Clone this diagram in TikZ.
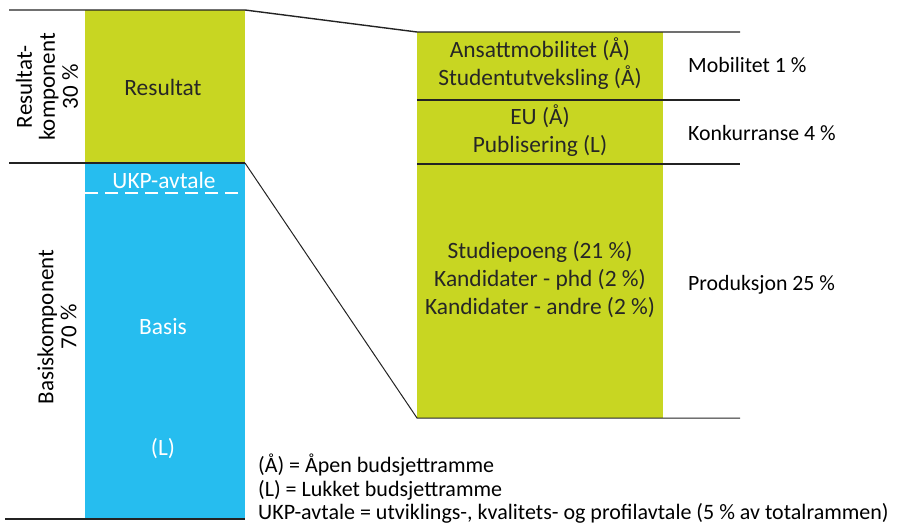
\documentclass[tikz,border=0pt]{standalone}
\usepackage{fontspec}
\setmainfont{Carlito}
\definecolor{lime}{RGB}{200,214,34}
\definecolor{sky}{RGB}{38,189,239}
\definecolor{rule}{RGB}{35,35,35}
\begin{document}
\begin{tikzpicture}[x=1pt,y=-1pt,
  box/.style={inner sep=0pt, outer sep=0pt, anchor=north west},
  sep/.style={draw=rule, line width=1.4pt},
  txt/.style={font=\fontsize{23.4}{28}\selectfont, text=black!85, align=center, inner sep=0pt},
  wtxt/.style={txt, text=white},
  side/.style={font=\fontsize{23}{23}\selectfont, align=center, inner sep=0pt, rotate=90},
  lab/.style={font=\fontsize{21.8}{26}\selectfont, anchor=west, inner sep=0pt},
  leg/.style={font=\fontsize{22}{24}\selectfont, anchor=west, inner sep=0pt}]
\useasboundingbox (0,0) rectangle (901,524);
% boxes
\node[box, fill=lime, minimum width=160pt, minimum height=153pt] (res) at (85,10) {};
\node[box, fill=sky, minimum width=160pt, minimum height=356pt] (bas) at (85,163) {};
\node[box, fill=lime, minimum width=246pt, minimum height=386pt] (rbox) at (417,32) {};
% coordinates for rules
\coordinate (tl) at (9,10);
\coordinate (ml) at (9,163);
\coordinate (bl) at (5,519);
\coordinate (r1) at (740,32);
\coordinate (r2a) at (417,100);
\coordinate (r2b) at (740,100);
\coordinate (r3a) at (417,164);
\coordinate (r3b) at (740,164);
\coordinate (r4) at (740,418);
\coordinate (d1) at (85,193);
\coordinate (d2) at (245,193);
% rules
\draw[sep] (tl) -- (res.north east) -- (rbox.north west) -- (r1);
\draw[sep] (ml) -- (res.south east);
\draw[sep, line width=1pt] (res.south east) -- (rbox.south west) -- (r4);
\draw[sep] (bl) -- (bas.south east);
\draw[sep] (r2a) -- (r2b);
\draw[sep] (r3a) -- (r3b);
\draw[white, line width=1.2pt, dash pattern=on 13pt off 7pt] (d1) -- (d2);
% texts
\node[txt] (tres) at (163,87) {Resultat};
\node[wtxt] (tukp) at (164,180) {UKP-avtale};
\node[wtxt] (tbas) at (163,327) {Basis};
\node[wtxt] (tl2) at (163,449) {(L)};
\node[side] (sres) at (47,87) {Resultat-\\komponent\\30 \%};
\node[side] (sbas) at (57,327) {Basiskomponent\\70 \%};
\node[txt] (t1) at (540,64) {Ansattmobilitet (Å)\\Studentutveksling (Å)};
\node[txt] (t2) at (540,131) {EU (Å)\\Publisering (L)};
\node[txt] (t3) at (540,280) {Studiepoeng (21 \%)\\Kandidater - phd (2 \%)\\Kandidater - andre (2 \%)};
\node[lab] (l1) at (688,65) {Mobilitet 1 \%};
\node[lab] (l2) at (688,133) {Konkurranse 4 \%};
\node[lab] (l3) at (688,285) {Produksjon 25 \%};
\node[leg] (g1) at (258,465) {(Å) = Åpen budsjettramme};
\node[leg] (g2) at (258,490) {(L) = Lukket budsjettramme};
\node[leg] (g3) at (258,513) {UKP-avtale = utviklings-, kvalitets- og profilavtale (5 \% av totalrammen)};
\end{tikzpicture}
\end{document}
